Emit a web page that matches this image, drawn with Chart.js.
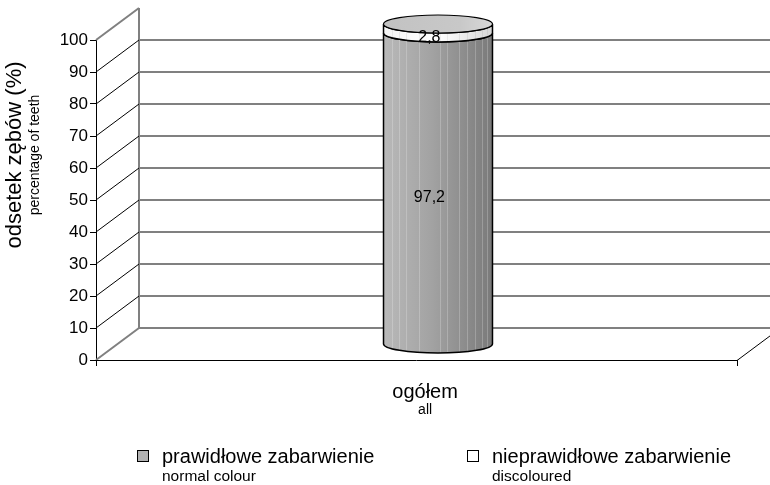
<!DOCTYPE html>
<html>
<head>
<meta charset="utf-8">
<script src="https://cdn.jsdelivr.net/npm/chart.js@4.4.1/dist/chart.umd.min.js"></script>
<style>
  html, body { margin: 0; padding: 0; background: #fff; }
  #wrap { width: 770px; height: 485px; position: relative; }
</style>
</head>
<body>
<div id="wrap"><canvas id="c" width="770" height="485"></canvas></div>
<script>
// Categories and series (percent of teeth)
const categories = ['ogółem'];
const categoriesEn = ['all'];
const seriesNames = ['prawidłowe zabarwienie', 'nieprawidłowe zabarwienie'];
const seriesNamesEn = ['normal colour', 'discoloured'];
const normalColour = [97.2];
const discoloured = [2.8];
const yTicks = [0, 10, 20, 30, 40, 50, 60, 70, 80, 90, 100];

const FONT = '"Liberation Sans", Arial, sans-serif';
const DX = 43, DY = 32;       // perspective depth of the 3D box
const RY = 9;                 // half-height of the cylinder ellipses

const fmt = v => String(v).replace('.', ',');

function bodyPath(ctx, cx, rx, yTop, yBot) {
  ctx.beginPath();
  ctx.moveTo(cx - rx, yTop);
  ctx.lineTo(cx - rx, yBot);
  ctx.ellipse(cx, yBot, rx, RY, 0, Math.PI, 0, true);
  ctx.lineTo(cx + rx, yTop);
  ctx.ellipse(cx, yTop, rx, RY, 0, 0, Math.PI, false);
  ctx.closePath();
}

const box3d = {
  id: 'box3d',
  beforeDatasetsDraw(chart) {
    const ctx = chart.ctx;
    const ys = chart.scales.y;
    const a = chart.chartArea;
    const W = chart.width;
    ctx.save();

    // back wall gridlines
    ctx.strokeStyle = '#808080';
    ctx.lineWidth = 2;
    yTicks.forEach(v => {
      if (v === 100) return;
      const y = Math.round(ys.getPixelForValue(v) - DY);
      ctx.beginPath();
      ctx.moveTo(a.left + DX, y);
      ctx.lineTo(W, y);
      ctx.stroke();
    });
    // back wall left edge
    ctx.beginPath();
    ctx.moveTo(a.left + DX, ys.getPixelForValue(100) - DY);
    ctx.lineTo(a.left + DX, ys.getPixelForValue(0) - DY);
    ctx.stroke();

    // side wall diagonals
    yTicks.forEach(v => {
      const y = ys.getPixelForValue(v);
      const edge = (v === 100 || v === 0);
      ctx.strokeStyle = edge ? '#808080' : '#000';
      ctx.lineWidth = edge ? 2 : 1;
      ctx.beginPath();
      ctx.moveTo(a.left, y);
      ctx.lineTo(a.left + DX, y - DY);
      ctx.stroke();
    });

    // floor front edge and right diagonal
    ctx.strokeStyle = '#000';
    ctx.lineWidth = 1;
    ctx.beginPath();
    ctx.moveTo(a.left, a.bottom + 0.5);
    ctx.lineTo(a.right, a.bottom + 0.5);
    ctx.lineTo(a.right + DX, a.bottom - DY + 0.5);
    ctx.stroke();
    ctx.beginPath();
    ctx.moveTo(a.right + 0.5, a.bottom);
    ctx.lineTo(a.right + 0.5, a.bottom + 6);
    ctx.moveTo(a.left + 0.5, a.bottom);
    ctx.lineTo(a.left + 0.5, a.bottom + 6);
    ctx.stroke();

    // cylinders, stacked from the data through the bar elements
    const metas = chart.data.datasets.map((d, i) => chart.getDatasetMeta(i));
    const nCat = chart.data.labels.length;
    for (let c = 0; c < nCat; c++) {
      let cum = 0;
      metas.forEach((meta, i) => {
        const bar = meta.data[c];
        const val = chart.data.datasets[i].data[c];
        const v0 = cum, v1 = cum + val;
        cum = v1;
        const cx = bar.x + DX / 2;
        const rx = bar.width / 2;
        const yTop = ys.getPixelForValue(v1) - DY / 2;
        const yBot = ys.getPixelForValue(v0) - DY / 2;

        const g = ctx.createLinearGradient(cx - rx, 0, cx + rx, 0);
        if (i === 0) {
          g.addColorStop(0, '#b9b9b9');
          g.addColorStop(0.45, '#a2a2a2');
          g.addColorStop(1, '#7a7a7a');
        } else {
          g.addColorStop(0, '#f4f4f4');
          g.addColorStop(0.5, '#ffffff');
          g.addColorStop(1, '#d6d6d6');
        }
        bodyPath(ctx, cx, rx, yTop, yBot);
        ctx.fillStyle = g;
        ctx.fill();

        // light vertical banding of the shaded surface
        ctx.save();
        bodyPath(ctx, cx, rx, yTop, yBot);
        ctx.clip();
        ctx.strokeStyle = i === 0 ? 'rgba(255,255,255,0.22)' : 'rgba(0,0,0,0.06)';
        ctx.lineWidth = 1;
        [0.08, 0.14, 0.21, 0.33, 0.52, 0.58, 0.69, 0.77, 0.84, 0.9, 0.95].forEach(f => {
          const x = Math.round(cx - rx + f * 2 * rx) + 0.5;
          ctx.beginPath();
          ctx.moveTo(x, yTop - RY);
          ctx.lineTo(x, yBot + RY);
          ctx.stroke();
        });
        ctx.restore();

        bodyPath(ctx, cx, rx, yTop, yBot);
        ctx.strokeStyle = '#000';
        ctx.lineWidth = 1.5;
        ctx.stroke();

        // top cap of the stack
        if (i === metas.length - 1) {
          const gt = ctx.createLinearGradient(cx - rx, 0, cx + rx, 0);
          gt.addColorStop(0, '#c2c2c2');
          gt.addColorStop(0.7, '#c8c8c8');
          gt.addColorStop(1, '#d8d8d8');
          ctx.beginPath();
          ctx.ellipse(cx, yTop, rx, RY, 0, 0, Math.PI * 2);
          ctx.fillStyle = gt;
          ctx.fill();
          ctx.lineWidth = 1.2;
          ctx.stroke();
        }
      });

      // value labels
      cum = 0;
      ctx.fillStyle = '#000';
      ctx.font = '16px ' + FONT;
      ctx.textAlign = 'center';
      ctx.textBaseline = 'middle';
      metas.forEach((meta, i) => {
        const bar = meta.data[c];
        const val = chart.data.datasets[i].data[c];
        const mid = cum + val / 2;
        cum += val;
        ctx.fillText(fmt(val), bar.x + DX * 0.3, ys.getPixelForValue(mid) - DY * 0.22);
      });

      // category label
      const bx = metas[0].data[c].x + DX * 0.2;
      ctx.font = '20px ' + FONT;
      ctx.fillText(categories[c], bx, 392);
      ctx.font = '14px ' + FONT;
      ctx.fillText(categoriesEn[c], bx, 410);
    }

    // axis titles
    ctx.save();
    ctx.translate(15, 155);
    ctx.rotate(-Math.PI / 2);
    ctx.textAlign = 'center';
    ctx.textBaseline = 'middle';
    ctx.font = '22px ' + FONT;
    ctx.fillText('odsetek zębów (%)', 0, 0);
    ctx.translate(0, 20);
    ctx.font = '14px ' + FONT;
    ctx.fillText('percentage of teeth', 0, 0);
    ctx.restore();

    // legend
    const legendX = [143, 473];
    const swatch = ['#b2b2b2', '#ffffff'];
    seriesNames.forEach((name, i) => {
      const x = legendX[i];
      ctx.fillStyle = swatch[i];
      ctx.fillRect(x - 6, 450, 12, 12);
      ctx.strokeStyle = '#000';
      ctx.lineWidth = 1;
      ctx.strokeRect(x - 6 + 0.5, 450.5, 11, 11);
      ctx.fillStyle = '#000';
      ctx.textAlign = 'left';
      ctx.textBaseline = 'alphabetic';
      ctx.font = '20px ' + FONT;
      ctx.fillText(name, x + 19, 463);
      ctx.font = '15.5px ' + FONT;
      ctx.fillText(seriesNamesEn[i], x + 19, 481);
    });

    ctx.restore();
    return false;
  }
};

new Chart(document.getElementById('c'), {
  type: 'bar',
  data: {
    labels: categories,
    datasets: [
      { label: seriesNames[0], data: normalColour, backgroundColor: '#b2b2b2' },
      { label: seriesNames[1], data: discoloured, backgroundColor: '#ffffff' }
    ]
  },
  options: {
    responsive: false,
    animation: false,
    events: [],
    layout: { padding: { left: 0, right: 33, top: 40, bottom: 125 } },
    plugins: { legend: { display: false }, tooltip: { enabled: false } },
    datasets: { bar: { categoryPercentage: 1, barPercentage: 0.17 } },
    scales: {
      x: { stacked: true, display: false },
      y: {
        stacked: true,
        min: 0, max: 100,
        afterFit(scale) { scale.width = 96; },
        afterBuildTicks(scale) { scale.ticks = yTicks.map(v => ({ value: v })); },
        ticks: { color: '#000', font: { family: FONT, size: 17 }, padding: 2 },
        grid: { drawOnChartArea: false, tickLength: 6, color: '#000' },
        border: { display: true, color: '#000', width: 1 }
      }
    }
  },
  plugins: [box3d]
});
</script>
</body>
</html>
